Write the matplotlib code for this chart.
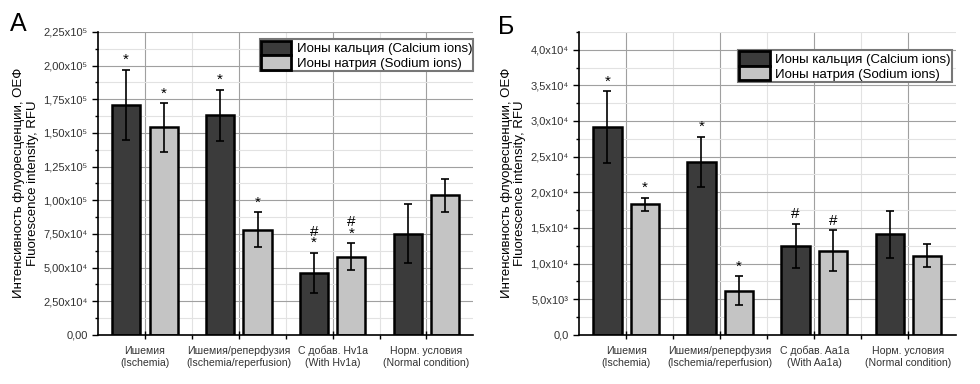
import matplotlib
matplotlib.use("Agg")
import matplotlib.pyplot as plt
import numpy as np
from matplotlib.ticker import FixedLocator, MultipleLocator

plt.rcParams['font.family'] = ['Liberation Sans', 'DejaVu Sans']

# --- данные ---
categories_a = ["Ишемия\n(Ischemia)", "Ишемия/реперфузия\n(Ischemia/reperfusion)",
                "С добав. Hv1a\n(With Hv1a)", "Норм. условия\n(Normal condition)"]
categories_b = ["Ишемия\n(Ischemia)", "Ишемия/реперфузия\n(Ischemia/reperfusion)",
                "С добав. Aa1a\n(With Aa1a)", "Норм. условия\n(Normal condition)"]
series_names = ["Ионы кальция (Calcium ions)", "Ионы натрия (Sodium ions)"]

calcium_a = [1.71e5, 1.63e5, 0.46e5, 0.75e5]
calcium_a_err = [0.26e5, 0.19e5, 0.15e5, 0.22e5]
sodium_a = [1.54e5, 0.78e5, 0.58e5, 1.035e5]
sodium_a_err = [0.18e5, 0.13e5, 0.10e5, 0.125e5]
marks_ca_a = ["*", "*", "#\n*", ""]
marks_na_a = ["*", "*", "#\n*", ""]

calcium_b = [2.91e4, 2.43e4, 1.25e4, 1.41e4]
calcium_b_err = [0.505e4, 0.35e4, 0.31e4, 0.33e4]
sodium_b = [1.83e4, 0.62e4, 1.18e4, 1.11e4]
sodium_b_err = [0.09e4, 0.20e4, 0.285e4, 0.16e4]
marks_ca_b = ["*", "*", "#", ""]
marks_na_b = ["*", "*", "#", ""]

ticks_a = [0, 2.5e4, 5e4, 7.5e4, 1e5, 1.25e5, 1.5e5, 1.75e5, 2e5, 2.25e5]
ticklabels_a = ["0,00", "2,50x10⁴", "5,00x10⁴", "7,50x10⁴", "1,00x10⁵", "1,25x10⁵",
                "1,50x10⁵", "1,75x10⁵", "2,00x10⁵", "2,25x10⁵"]
ticks_b = [0, 5e3, 1e4, 1.5e4, 2e4, 2.5e4, 3e4, 3.5e4, 4e4]
ticklabels_b = ["0,0", "5,0x10³", "1,0x10⁴", "1,5x10⁴", "2,0x10⁴", "2,5x10⁴",
                "3,0x10⁴", "3,5x10⁴", "4,0x10⁴"]

DARK = "#3b3b3b"
LIGHT = "#c4c4c4"


def panel(ax, cats, ca, ca_err, na, na_err, mk_ca, mk_na, ticks, labels, ymax, minor_step):
    x = np.arange(1, len(cats) + 1)
    w = 0.3
    ax.set_axisbelow(True)
    ax.bar(x - 0.2, ca, w, color=DARK, edgecolor="black", linewidth=1.8,
           label=series_names[0], zorder=2)
    ax.bar(x + 0.2, na, w, color=LIGHT, edgecolor="black", linewidth=1.8,
           label=series_names[1], zorder=2)
    ax.errorbar(x - 0.2, ca, yerr=ca_err, fmt="none", ecolor="black",
                elinewidth=1.2, capsize=3, capthick=1.2, zorder=3)
    ax.errorbar(x + 0.2, na, yerr=na_err, fmt="none", ecolor="black",
                elinewidth=1.2, capsize=3, capthick=1.2, zorder=3)
    for xi, v, e, m in zip(x - 0.2, ca, ca_err, mk_ca):
        if m:
            ax.annotate(m, (xi, v + e), xytext=(0, 2), textcoords="offset points",
                        ha="center", va="bottom", fontsize=11, linespacing=0.75)
    for xi, v, e, m in zip(x + 0.2, na, na_err, mk_na):
        if m:
            ax.annotate(m, (xi, v + e), xytext=(0, 2), textcoords="offset points",
                        ha="center", va="bottom", fontsize=11, linespacing=0.75)

    ax.set_xlim(0.5, 4.5)
    ax.set_ylim(0, ymax)
    ax.set_xticks(x)
    ax.set_xticklabels(cats, fontsize=7.6, color="#333333")
    ax.xaxis.set_minor_locator(FixedLocator([1.5, 2.5, 3.5]))
    ax.set_yticks(ticks)
    ax.set_yticklabels(labels, fontsize=8, color="#333333")
    ax.yaxis.set_minor_locator(MultipleLocator(minor_step))

    ax.grid(True, which="major", color="#a0a0a0", linewidth=0.8)
    ax.grid(True, which="minor", color="#e2e2e2", linewidth=0.8)

    for s in ["top", "right"]:
        ax.spines[s].set_visible(False)
    ax.spines["left"].set_linewidth(1.2)
    ax.spines["bottom"].set_linewidth(1.2)
    ax.tick_params(axis="y", which="major", direction="out", length=4, width=1)
    ax.tick_params(axis="y", which="minor", direction="out", length=2.5, width=1)
    ax.tick_params(axis="x", which="major", direction="inout", length=6, width=1, pad=5)
    ax.tick_params(axis="x", which="minor", direction="out", length=3, width=1)

    ax.set_ylabel("Интенсивность флуоресценции, ОЕФ\nFluorescence intensity, RFU",
                  fontsize=9.5, labelpad=3)


fig = plt.figure(figsize=(9.8, 3.84), dpi=100)
ax1 = fig.add_axes([0.100, 0.128, 0.383, 0.789])
ax2 = fig.add_axes([0.591, 0.128, 0.384, 0.789])

panel(ax1, categories_a, calcium_a, calcium_a_err, sodium_a, sodium_a_err,
      marks_ca_a, marks_na_a, ticks_a, ticklabels_a, 2.25e5, 1.25e4)
panel(ax2, categories_b, calcium_b, calcium_b_err, sodium_b, sodium_b_err,
      marks_ca_b, marks_na_b, ticks_b, ticklabels_b, 4.25e4, 2.5e3)

for ax, anchor in [(ax1, (1.0, 0.975)), (ax2, (0.99, 0.94))]:
    leg = ax.legend(loc="upper right", bbox_to_anchor=anchor, fontsize=9.5,
                    frameon=True, fancybox=False, framealpha=1, edgecolor="#777777",
                    handlelength=2.3, handleheight=1.3, borderpad=0.1,
                    labelspacing=0.0, handletextpad=0.4, borderaxespad=0)
    leg.get_frame().set_linewidth(1.5)
    for h in leg.legend_handles:
        h.set_linewidth(2)

fig.text(0.010, 0.97, "А", fontsize=18, va="top", ha="left")
fig.text(0.508, 0.96, "Б", fontsize=18, va="top", ha="left")

fig.savefig("out.png", dpi=100)
